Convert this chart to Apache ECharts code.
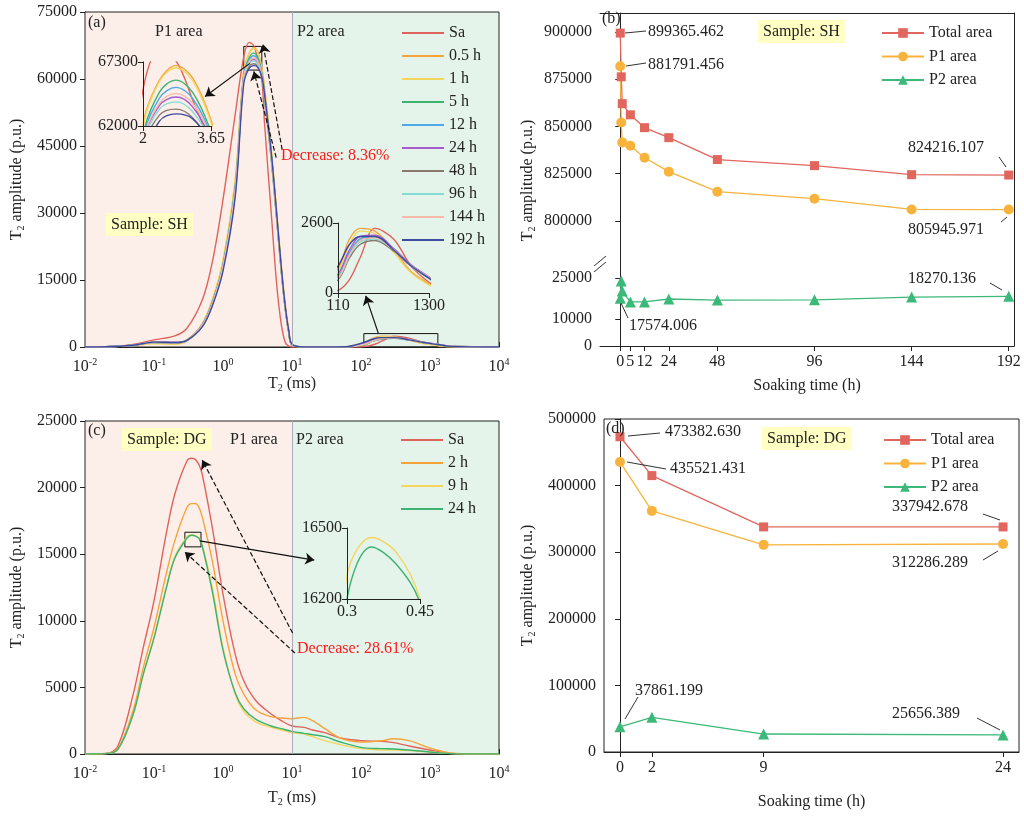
<html>
<head>
<meta charset="utf-8">
<title>T2 spectra</title>
<script src="https://cdn.jsdelivr.net/npm/echarts@6/dist/echarts.min.js"></script>
<style>body{margin:0;background:#fff}#main{width:1024px;height:818px}</style>
</head>
<body>
<div id="main"></div>
<script>
// ---- (a) sample SH T2 spectra ----
var t2A = [0.01,0.02,0.05,0.1,0.2,0.3,0.5,0.7,1,1.5,2,2.4,2.8,3.2,3.65,4,5,6,7,8,9,10,15,30,60,110,150,200,300,500,800,1300,2000,10000];
var namesA = ['Sa','0.5 h','1 h','5 h','12 h','24 h','48 h','96 h','144 h','192 h'];
var colorsA = ['#e0625c','#f5a43c','#f2d65e','#3cb371','#4fa8e8','#a45ccc','#8a7870','#82dcd2','#f7b9aa','#3c4aa0'];
var ampA = [
  [0,50,600,1600,2500,4200,10500,19000,33000,52000,65000,68200,67400,64200,60000,50000,30000,14000,5000,1000,200,0,0,0,0,100,500,1300,2400,2000,1000,400,80,0],
  [0,40,400,1100,1000,1600,5200,10500,19000,37000,62000,65800,67000,66000,62500,58000,44000,30000,18000,9000,3500,500,0,0,50,900,2000,2400,2300,1600,800,350,80,0],
  [0,30,300,700,600,1300,5000,10500,19500,37500,61800,65700,66800,65800,62300,58000,44500,30500,18500,9500,3800,600,0,0,50,800,1800,2300,2200,1500,750,300,60,0],
  [0,40,400,1000,900,1500,5000,10000,18500,36000,61000,64800,65800,64800,61500,57000,43500,29500,17500,8800,3300,500,0,0,30,500,1400,2000,2100,1600,1000,550,150,0],
  [0,40,400,1100,1000,1500,4900,9800,18200,35500,60800,64300,65200,64300,61200,56500,43000,29000,17200,8600,3200,450,0,0,30,600,1500,2000,2100,1600,1000,550,150,0],
  [0,40,400,1100,1000,1500,4800,9700,18000,35000,60500,63700,64400,63600,60800,56000,42500,28800,17000,8500,3200,450,0,0,40,700,1600,2100,2150,1650,1050,600,160,0],
  [0,40,400,1000,900,1400,4700,9500,17700,34500,60000,62900,63400,62700,60300,55500,42000,28500,16800,8400,3100,450,0,0,30,500,1300,1800,1950,1550,1000,580,170,0],
  [0,40,400,1000,950,1450,4800,9600,17900,34800,60300,63400,64000,63200,60600,55800,42300,28700,16900,8500,3200,450,0,0,30,550,1400,1900,2000,1600,1000,580,170,0],
  [0,40,400,1050,950,1500,4850,9700,18100,35200,60600,63900,64700,63900,61000,56200,42700,28900,17100,8550,3200,450,0,0,30,550,1400,1950,2050,1600,1000,580,170,0],
  [0,40,400,1100,1000,1500,4500,9200,17000,33500,59000,62400,63000,62600,60500,56500,43500,29800,17800,9000,3500,600,0,0,60,1000,1800,2100,2100,1600,1000,550,150,0]
];

// ---- (b) sample SH areas ----
var timeB = [0,0.5,1,5,12,24,48,96,144,192];
var totalB = [899365.462,876200,862000,856100,849300,844000,832400,829200,824400,824216.107];
var p1B = [881791.456,852000,841500,839700,833400,826000,815400,811700,806000,805945.971];
var p2B = [17574.006,23900,20200,16200,16200,17300,16900,17000,18000,18270.136];
var ticksB = [0,5,12,24,48,96,144,192];

// ---- (c) sample DG T2 spectra ----
var t2C = [0.01,0.02,0.03,0.05,0.07,0.1,0.15,0.2,0.3,0.35,0.4,0.45,0.5,0.7,1,1.5,2,3,5,7,10,15,20,30,50,100,200,300,500,1000,2000,5000,10000];
var namesC = ['Sa ','2 h','9 h','24 h '];
var colorsC = ['#e0625c','#f5a43c','#f2d65e','#3cb371'];
var ampC = [
  [0,50,600,4500,8000,11500,16500,19500,22000,22200,22100,21700,21000,17000,12000,7500,5500,4000,3000,2500,2100,2000,1800,1600,1200,1000,950,850,600,300,50,0,0],
  [0,30,400,3300,6500,9500,13500,16000,18500,18800,18800,18500,17800,14500,10000,6000,4500,3300,2800,2700,2650,2750,2500,1900,1200,900,1000,1150,1000,450,80,0,0],
  [0,30,350,3000,6000,8800,12500,14800,16300,16460,16400,16200,15700,12500,8000,4500,3200,2400,2000,1800,1600,1500,1300,1000,700,400,300,300,250,150,30,0,0],
  [0,30,350,3000,6000,8700,12400,14700,16200,16420,16350,16180,15600,12200,7800,4600,3400,2600,2100,1900,1700,1550,1450,1300,900,500,400,380,300,150,30,0,0]
];

// ---- (d) sample DG areas ----
var timeD = [0,2,9,24];
var totalD = [473382.630,415000,338000,337942.678];
var p1D = [435521.431,362000,311000,312286.289];
var p2D = [37861.199,52000,27000,25656.389];

var FONT = 'Liberation Serif';
var decadeTicks = [0.01,0.1,1,10,100,1000,10000];

function zip(xs, ys) {
  var out = [];
  for (var i = 0; i < xs.length; i++) out.push([xs[i], ys[i]]);
  return out;
}
function logLabel(v) {
  var e = Math.round(Math.log10(v));
  return '{b|10}{s|' + e + '}';
}
function plain(v) { return String(v); }
var logRich = { b: {fontFamily: FONT, fontSize: 16, color: '#222'}, s: {fontFamily: FONT, fontSize: 10, color: '#222', padding: [0, 0, 10, 0]} };
var yName = '{t|T}{s|2}{t| amplitude (p.u.)}';
var nameRich = { t: {fontFamily: FONT, fontSize: 16, color: '#222'}, s: {fontFamily: FONT, fontSize: 10, color: '#222', padding: [0, 0, -8, 0]} };
var t2Name = '{t|T}{s|2}{t| (ms)}';
var axLine = {show: true, lineStyle: {color: '#222', width: 1}};
var lbl = {fontFamily: FONT, fontSize: 16, color: '#222', formatter: plain};

function logX(grid) {
  return {type: 'log', gridIndex: grid, min: 0.01, max: 10000, logBase: 10,
    axisLine: axLine, splitLine: {show: false},
    axisTick: {inside: true, length: 5, customValues: decadeTicks, lineStyle: {color: '#222'}},
    axisLabel: {customValues: decadeTicks, formatter: logLabel, rich: logRich, margin: 10},
    name: t2Name, nameLocation: 'middle', nameTextStyle: {rich: nameRich}};
}
function insetAxis(type, grid, mn, mx, vals) {
  return {type: type, gridIndex: grid, min: mn, max: mx, logBase: 10, z: 10,
    axisLine: axLine, splitLine: {show: false},
    axisTick: {length: 5, customValues: vals, lineStyle: {color: '#222'}},
    axisLabel: {customValues: vals, formatter: plain, fontFamily: FONT, fontSize: 16, color: '#222', margin: 5}};
}

var series = [];
// backgrounds and annotations for (a)
series.push({type: 'line', xAxisIndex: 0, yAxisIndex: 0, data: [], silent: true, z: -1,
  markArea: {silent: true, data: [
    [{coord: [0.01, 0], itemStyle: {color: '#fcefe9'}}, {coord: [10, 75000]}],
    [{coord: [10, 0], itemStyle: {color: '#e5f4ea'}}, {coord: [10000, 75000]}]
  ]},
  markLine: {silent: true, symbol: 'none', label: {show: false}, lineStyle: {color: '#aab', type: 'solid', width: 1},
    data: [{xAxis: 10}]}
});
series.push({type: 'line', xAxisIndex: 0, yAxisIndex: 0, data: [], silent: true, z: 5,
  markArea: {silent: true, itemStyle: {color: 'rgba(0,0,0,0)', borderColor: '#111', borderWidth: 1}, data: [
    [{coord: [2, 62000]}, {coord: [3.65, 67300]}],
    [{coord: [110, 0]}, {coord: [1300, 3000]}]
  ]},
  markLine: {silent: true, symbol: ['none', 'arrow'], symbolSize: 9, label: {show: false}, data: [
    [{coord: [7.2, 44200], lineStyle: {type: 'dashed', color: '#111', width: 1.2}}, {coord: [3.8, 67800]}],
    [{coord: [5.9, 42400], lineStyle: {type: 'dashed', color: '#111', width: 1.2}}, {coord: [2.8, 61700]}],
    [{coord: [2.45, 63500], lineStyle: {type: 'solid', color: '#111', width: 1.2}}, {coord: [0.55, 56100]}],
    [{coord: [178, 3100], lineStyle: {type: 'solid', color: '#111', width: 1.2}}, {coord: [117, 11450]}]
  ]}
});
for (var i = 0; i < namesA.length; i++) {
  var d = zip(t2A, ampA[i]);
  var base = {type: 'line', name: namesA[i], smooth: 0.35, symbol: 'none', color: colorsA[i], lineStyle: {width: 1.4}, z: 3 + (i === 0 ? 0 : 1), data: d};
  series.push(Object.assign({}, base, {xAxisIndex: 0, yAxisIndex: 0}));
  series.push(Object.assign({}, base, {xAxisIndex: 1, yAxisIndex: 1}));
  series.push(Object.assign({}, base, {xAxisIndex: 2, yAxisIndex: 2}));
}
// (b)
series.push({type: 'line', name: 'Total area', xAxisIndex: 3, yAxisIndex: 3, data: zip(timeB, totalB), symbol: 'rect', symbolSize: 9, color: '#e0665e', lineStyle: {width: 1.3}});
series.push({type: 'line', name: 'P1 area', xAxisIndex: 3, yAxisIndex: 3, data: zip(timeB, p1B), symbol: 'circle', symbolSize: 10, color: '#f8b33c', lineStyle: {width: 1.3}});
series.push({type: 'line', name: 'P2 area', xAxisIndex: 4, yAxisIndex: 5, data: zip(timeB, p2B), symbol: 'triangle', symbolSize: 11, color: '#3cb878', lineStyle: {width: 1.3}});
// (c)
series.push({type: 'line', xAxisIndex: 5, yAxisIndex: 7, data: [], silent: true, z: -1,
  markArea: {silent: true, data: [
    [{coord: [0.01, 0], itemStyle: {color: '#fcefe9'}}, {coord: [10, 25000]}],
    [{coord: [10, 0], itemStyle: {color: '#e5f4ea'}}, {coord: [10000, 25000]}]
  ]},
  markLine: {silent: true, symbol: 'none', label: {show: false}, lineStyle: {color: '#aab', type: 'solid', width: 1},
    data: [{xAxis: 10}]}
});
series.push({type: 'line', xAxisIndex: 5, yAxisIndex: 7, data: [], silent: true, z: 5,
  markArea: {silent: true, itemStyle: {color: 'rgba(0,0,0,0)', borderColor: '#111', borderWidth: 1}, data: [
    [{coord: [0.28, 15550]}, {coord: [0.48, 16650]}]
  ]},
  markLine: {silent: true, symbol: ['none', 'arrow'], symbolSize: 9, label: {show: false}, data: [
    [{coord: [10.2, 9080], lineStyle: {type: 'dashed', color: '#111', width: 1.2}}, {coord: [0.5, 22070]}],
    [{coord: [11, 7580], lineStyle: {type: 'dashed', color: '#111', width: 1.2}}, {coord: [0.28, 15170]}],
    [{coord: [0.46, 16000], lineStyle: {type: 'solid', color: '#111', width: 1.2}}, {coord: [21, 14560]}]
  ]}
});
for (var j = 0; j < namesC.length; j++) {
  var dc = zip(t2C, ampC[j]);
  var bc = {type: 'line', name: namesC[j], smooth: 0.35, symbol: 'none', color: colorsC[j], lineStyle: {width: 1.4}, z: 3, data: dc};
  series.push(Object.assign({}, bc, {xAxisIndex: 5, yAxisIndex: 7}));
  series.push(Object.assign({}, bc, {xAxisIndex: 6, yAxisIndex: 8}));
}
// (d)
series.push({type: 'line', name: 'Total area ', xAxisIndex: 7, yAxisIndex: 9, data: zip(timeD, totalD), symbol: 'rect', symbolSize: 9, color: '#e0665e', lineStyle: {width: 1.3}});
series.push({type: 'line', name: 'P1 area ', xAxisIndex: 7, yAxisIndex: 9, data: zip(timeD, p1D), symbol: 'circle', symbolSize: 10, color: '#f8b33c', lineStyle: {width: 1.3}});
series.push({type: 'line', name: 'P2 area ', xAxisIndex: 7, yAxisIndex: 9, data: zip(timeD, p2D), symbol: 'triangle', symbolSize: 11, color: '#3cb878', lineStyle: {width: 1.3}});

function txt(x, y, s, opt) {
  return {type: 'text', left: x, top: y, z: 20, style: Object.assign({text: s, font: '16px "' + FONT + '"', fill: '#222'}, opt || {})};
}
function sample(x, y, s) {
  return {type: 'text', left: x, top: y, z: 20, style: {text: s, font: '16px "' + FONT + '"', fill: '#222', backgroundColor: '#ffffc4', padding: [4, 5, 3, 5]}};
}
function seg(x1, y1, x2, y2) {
  return {type: 'line', z: 20, shape: {x1: x1, y1: y1, x2: x2, y2: y2}, style: {stroke: '#333', lineWidth: 1}};
}

var legendBase = {orient: 'vertical', itemWidth: 42, itemHeight: 12, itemGap: 7.5, textStyle: {fontFamily: FONT, fontSize: 16, color: '#222'}, selectedMode: false};
// line-only legend for the spectra panels
var lineLegend = {icon: 'rect', itemHeight: 2, itemGap: 7};

var option = {
  animation: false,
  backgroundColor: '#fff',
  grid: [
    {left: 85, top: 12, width: 414, height: 335, show: true, borderColor: '#222', borderWidth: 1, backgroundColor: 'transparent', z: 3},
    {left: 143, top: 62, width: 68, height: 64},
    {left: 338, top: 223, width: 91, height: 70},
    {left: 600, top: 13, width: 414, height: 255},
    {left: 600, top: 268, width: 414, height: 78},
    {left: 85, top: 421, width: 414, height: 333, show: true, borderColor: '#222', borderWidth: 1, backgroundColor: 'transparent', z: 3},
    {left: 347, top: 528, width: 73, height: 71},
    {left: 604, top: 419, width: 415, height: 333, show: true, borderColor: '#222', borderWidth: 1, backgroundColor: 'transparent'}
  ],
  xAxis: [
    Object.assign(logX(0), {nameGap: 22}),
    insetAxis('value', 1, 2, 3.65, [2, 3.65]),
    insetAxis('log', 2, 110, 1300, [110, 1300]),
    {type: 'value', gridIndex: 3, position: 'top', min: -10, max: 194.6, axisLine: axLine, axisTick: {show: false}, axisLabel: {show: false}, splitLine: {show: false}},
    {type: 'value', gridIndex: 4, min: -10, max: 194.6, axisLine: axLine, splitLine: {show: false},
      axisTick: {customValues: ticksB, length: 5, lineStyle: {color: '#222'}},
      axisLabel: Object.assign({customValues: ticksB, margin: 8}, lbl),
      name: 'Soaking time (h)', nameLocation: 'middle', nameGap: 32, nameTextStyle: lbl},
    Object.assign(logX(5), {nameGap: 36}),
    insetAxis('value', 6, 0.3, 0.45, [0.3, 0.45]),
    {type: 'value', gridIndex: 7, min: -1, max: 25, axisLine: axLine, splitLine: {show: false},
      axisTick: {customValues: timeD, length: 5, lineStyle: {color: '#222'}},
      axisLabel: Object.assign({customValues: timeD, margin: 8}, lbl),
      name: 'Soaking time (h)', nameLocation: 'middle', nameGap: 42, nameTextStyle: lbl}
  ],
  yAxis: [
    {type: 'value', gridIndex: 0, min: 0, max: 75000, interval: 15000, axisLine: axLine, splitLine: {show: false},
      axisTick: {length: 5, lineStyle: {color: '#222'}}, axisLabel: lbl,
      name: yName, nameLocation: 'middle', nameGap: 60, nameTextStyle: {rich: nameRich}},
    insetAxis('value', 1, 62000, 67300, [62000, 67300]),
    insetAxis('value', 2, 0, 2600, [0, 2600]),
    {type: 'value', gridIndex: 3, min: 775000, max: 910000, interval: 25000, axisLine: axLine, splitLine: {show: false},
      axisTick: {length: 5, lineStyle: {color: '#222'}}, axisLabel: Object.assign({showMinLabel: false, showMaxLabel: false}, lbl),
      name: yName, nameLocation: 'middle', nameGap: 64, nameTextStyle: {rich: nameRich, padding: [0, 0, 0, -80]}},
    {type: 'value', gridIndex: 3, position: 'right', min: 775000, max: 910000, axisLine: axLine, axisTick: {show: false}, axisLabel: {show: false}, splitLine: {show: false}},
    {type: 'value', gridIndex: 4, min: 0, max: 28700, axisLine: axLine, splitLine: {show: false},
      axisTick: {customValues: [0, 10000, 25000], length: 5, lineStyle: {color: '#222'}},
      axisLabel: Object.assign({customValues: [0, 10000, 25000]}, lbl)},
    {type: 'value', gridIndex: 4, position: 'right', min: 0, max: 28700, axisLine: axLine, axisTick: {show: false}, axisLabel: {show: false}, splitLine: {show: false}},
    {type: 'value', gridIndex: 5, min: 0, max: 25000, interval: 5000, axisLine: axLine, splitLine: {show: false},
      axisTick: {length: 5, lineStyle: {color: '#222'}}, axisLabel: lbl,
      name: yName, nameLocation: 'middle', nameGap: 60, nameTextStyle: {rich: nameRich}},
    insetAxis('value', 6, 16200, 16500, [16200, 16500]),
    {type: 'value', gridIndex: 7, min: 0, max: 500000, interval: 100000, axisLine: axLine, splitLine: {show: false},
      axisTick: {length: 5, lineStyle: {color: '#222'}}, axisLabel: lbl,
      name: yName, nameLocation: 'middle', nameGap: 68, nameTextStyle: {rich: nameRich}}
  ],
  legend: [
    Object.assign({}, legendBase, lineLegend, {left: 397, top: 20, data: namesA}),
    Object.assign({}, legendBase, {left: 876, top: 20, data: ['Total area', 'P1 area', 'P2 area']}),
    Object.assign({}, legendBase, lineLegend, {left: 396, top: 427, data: namesC}),
    Object.assign({}, legendBase, {left: 878, top: 427, data: ['Total area ', 'P1 area ', 'P2 area ']})
  ],
  graphic: [
    txt(88, 15, '(a)'), txt(155, 24, 'P1 area'), txt(297, 24, 'P2 area'),
    sample(106, 213, 'Sample: SH'),
    txt(281, 148, 'Decrease: 8.36%', {fill: '#ff1a1a'}),
    txt(602, 11, '(b)'), sample(758, 20, 'Sample: SH'),
    txt(648, 24, '899365.462'), seg(625, 33, 646, 31),
    txt(648, 57, '881791.456'), seg(626, 66, 646, 63),
    txt(908, 140, '824216.107'), seg(999, 157, 1006, 167),
    txt(908, 222, '805945.971'), seg(1001, 222, 1007, 217),
    txt(908, 271, '18270.136'), seg(990, 283, 1002, 290),
    txt(629, 318, '17574.006'), seg(621, 303, 628, 318),
    seg(594, 266, 606, 256), seg(594, 272, 606, 262),
    {type: 'rect', z: 19, shape: {x: 597, y: 262, width: 6, height: 5}, style: {fill: '#fff'}},
    txt(88, 423, '(c)'), sample(122, 428, 'Sample: DG'), txt(230, 432, 'P1 area'), txt(296, 432, 'P2 area'),
    txt(297, 641, 'Decrease: 28.61%', {fill: '#ff1a1a'}),
    txt(606, 421, '(d)'), sample(762, 427, 'Sample: DG'),
    txt(665, 424, '473382.630'), seg(628, 436, 660, 433),
    txt(670, 461, '435521.431'), seg(627, 462, 666, 469),
    txt(892, 499, '337942.678'), seg(983, 514, 1000, 520),
    txt(892, 555, '312286.289'), seg(983, 560, 998, 551),
    txt(635, 683, '37861.199'), seg(638, 697, 625, 719),
    txt(892, 706, '25656.389'), seg(977, 718, 1000, 730)
  ],
  series: series
};

var chart = echarts.init(document.getElementById('main'));
chart.setOption(option);
window.onresize = function () { chart.resize(); };
</script>
</body>
</html>
